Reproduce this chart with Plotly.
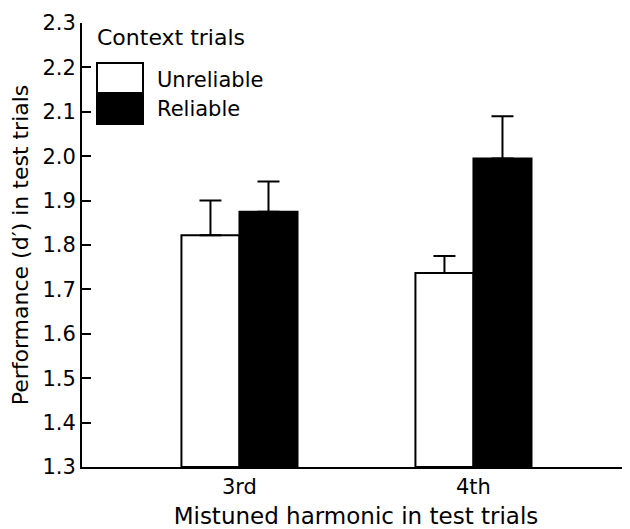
import plotly.graph_objects as go

categories = ["3rd", "4th"]
series_names = ["Unreliable", "Reliable"]
unreliable = [1.822, 1.737]
unreliable_err = [0.078, 0.038]
reliable = [1.875, 1.995]
reliable_err = [0.068, 0.095]
y_ticks = [1.3, 1.4, 1.5, 1.6, 1.7, 1.8, 1.9, 2.0, 2.1, 2.2, 2.3]
legend_title = "Context trials"

# page body has an 8px margin; compensate
OFF = 8
W, H = 630 - OFF, 529 - OFF
ML, MR, MT, MB = 82 - OFF, 0, 23 - OFF, 62
FONT = "DejaVu Sans"
FS = 21

fig = go.Figure()
for name, vals, errs, col in [(series_names[0], unreliable, unreliable_err, "white"),
                              (series_names[1], reliable, reliable_err, "black")]:
    fig.add_trace(go.Bar(
        x=categories, y=[v - 1.3 for v in vals], base=1.3, name=name,
        marker=dict(color=col, line=dict(color="black", width=2)),
        error_y=dict(type="data", symmetric=False, array=errs,
                     arrayminus=[0] * len(errs), color="black",
                     thickness=2, width=11),
        showlegend=False,
    ))

fig.update_layout(
    width=W, height=H, barmode="group", bargap=0.504, bargroupgap=0,
    margin=dict(l=ML, r=MR, t=MT, b=MB, autoexpand=False),
    plot_bgcolor="white", paper_bgcolor="white",
    font=dict(family=FONT, size=FS, color="black"),
    xaxis=dict(range=[-0.673, 1.669], showline=True, linecolor="black",
               linewidth=2, ticks="", showgrid=False, zeroline=False,
               automargin=False,
               title=dict(text="Mistuned harmonic in test trials", standoff=15,
                          font=dict(size=23)),
               tickfont=dict(size=FS)),
    yaxis=dict(range=[1.3, 2.3], tickvals=y_ticks,
               ticktext=[f"{t:.1f}" for t in y_ticks],
               showline=True, linecolor="black", linewidth=2,
               ticks="inside", ticklen=9, tickwidth=2, tickcolor="black",
               showgrid=False, zeroline=False, automargin=False,
               title=dict(text="Performance (d′) in test trials", standoff=8,
                          font=dict(size=22)),
               tickfont=dict(size=FS)),
)

pw, ph = W - ML - MR, H - MT - MB
def px(x):
    return (x - OFF - ML) / pw
def py(y):
    return (H + OFF - MB - y) / ph

# custom legend
fig.add_shape(type="rect", xref="paper", yref="paper",
              x0=px(97), x1=px(143), y0=py(93), y1=py(63),
              fillcolor="white", line=dict(color="black", width=2))
fig.add_shape(type="rect", xref="paper", yref="paper",
              x0=px(97), x1=px(143), y0=py(124), y1=py(93),
              fillcolor="black", line=dict(color="black", width=2))
fig.add_annotation(xref="paper", yref="paper", x=px(95), y=py(38),
                   text=legend_title, showarrow=False, xanchor="left",
                   yanchor="middle", font=dict(size=22))
fig.add_annotation(xref="paper", yref="paper", x=px(155), y=py(80),
                   text=series_names[0], showarrow=False, xanchor="left",
                   yanchor="middle", font=dict(size=FS))
fig.add_annotation(xref="paper", yref="paper", x=px(155), y=py(109),
                   text=series_names[1], showarrow=False, xanchor="left",
                   yanchor="middle", font=dict(size=FS))

fig.write_html("out.html")
